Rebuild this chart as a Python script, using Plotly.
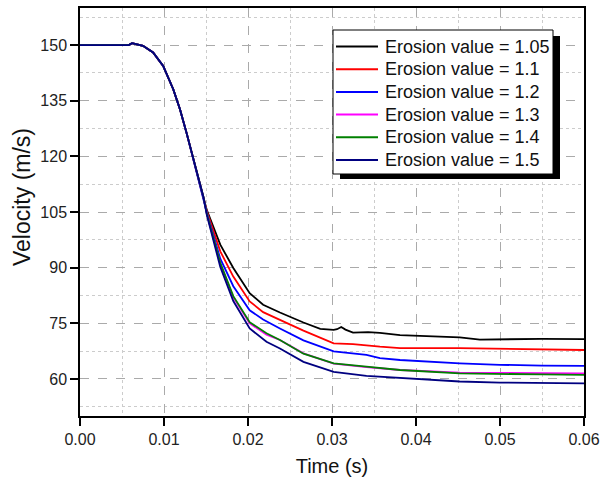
import plotly.graph_objects as go

# shared start of every curve (all overlap until ~0.015 s)
t_common = [0.0, 0.0058, 0.0062, 0.0066, 0.0075, 0.0087, 0.0099, 0.0111, 0.0119, 0.0127, 0.0134, 0.0141, 0.0147]
v_common = [150.0, 150.0, 150.5, 150.3, 149.8, 148.0, 144.4, 138.1, 132.7, 126.2, 120.0, 113.8, 109.0]

t_105 = [0.0151, 0.0167, 0.01825, 0.0202, 0.0218, 0.0238, 0.0266, 0.0286, 0.0302, 0.0306, 0.0311, 0.0316,
         0.0325, 0.0343, 0.0357, 0.0381, 0.0420, 0.0452, 0.0476, 0.050, 0.055, 0.060]
v_105 = [105.5, 96.2, 89.9, 83.1, 80.0, 77.9, 75.2, 73.5, 73.2, 73.4, 74.0, 73.3,
         72.5, 72.6, 72.4, 71.8, 71.5, 71.2, 70.6, 70.7, 70.8, 70.7]

t_11 = [0.0151, 0.0167, 0.01825, 0.0202, 0.0218, 0.0238, 0.0266, 0.0302, 0.0325, 0.0357, 0.0381, 0.0452, 0.050, 0.055, 0.060]
v_11 = [105.2, 94.4, 87.6, 80.9, 78.0, 75.9, 73.0, 69.6, 69.4, 68.7, 68.3, 68.3, 68.2, 68.0, 67.8]

t_12 = [0.0151, 0.0167, 0.01825, 0.0202, 0.0218, 0.0238, 0.0266, 0.0302, 0.0341, 0.0357, 0.0381, 0.0452, 0.050, 0.055, 0.060]
v_12 = [104.8, 92.4, 85.0, 78.5, 76.0, 73.6, 70.4, 67.4, 66.5, 65.6, 65.1, 64.2, 63.8, 63.6, 63.5]

t_13 = [0.0151, 0.0167, 0.01825, 0.0202, 0.0222, 0.0238, 0.0266, 0.0302, 0.0341, 0.0381, 0.0452, 0.050, 0.055, 0.060]
v_13 = [104.5, 91.1, 82.0, 75.0, 71.9, 70.5, 66.9, 64.1, 63.2, 62.4, 61.7, 61.6, 61.5, 61.5]

t_14 = [0.0151, 0.0167, 0.01825, 0.0202, 0.0222, 0.0232, 0.0238, 0.0266, 0.0302, 0.0341, 0.0381, 0.0452, 0.050, 0.055, 0.060]
v_14 = [104.5, 91.3, 82.3, 75.3, 72.3, 71.2, 70.5, 66.8, 64.2, 63.3, 62.4, 61.5, 61.3, 61.2, 61.1]

t_15 = [0.0151, 0.0167, 0.01825, 0.0202, 0.0222, 0.0238, 0.0266, 0.0302, 0.0341, 0.0381, 0.0452, 0.050, 0.055, 0.060]
v_15 = [104.2, 90.2, 81.0, 73.6, 70.0, 68.2, 64.6, 61.9, 60.8, 60.2, 59.3, 59.0, 58.9, 58.8]

names = ["Erosion value = 1.05", "Erosion value = 1.1", "Erosion value = 1.2",
         "Erosion value = 1.3", "Erosion value = 1.4", "Erosion value = 1.5"]
series = [(t_105, v_105), (t_11, v_11), (t_12, v_12), (t_13, v_13), (t_14, v_14), (t_15, v_15)]
colors = ["#000000", "#ff0000", "#0000ff", "#ff00ff", "#008000", "#000080"]

fig = go.Figure()
for name, (t, v), c in zip(names, series, colors):
    fig.add_trace(go.Scatter(x=t_common + t, y=v_common + v, mode="lines", name=name,
                             line=dict(color=c, width=1.8)))

# plot area is 504 x 408 px starting at page px (80, 8)
pw, ph = 504, 408
def px_x(p):
    return (p - 80) / pw
def px_y(p):
    return 1 - (p - 8) / ph

# hand-built legend box (Origin style, with a drop shadow)
fig.add_shape(type="rect", xref="paper", yref="paper",
              x0=px_x(340), x1=px_x(560), y0=px_y(179), y1=px_y(36),
              fillcolor="black", line=dict(width=0), layer="above")
fig.add_shape(type="rect", xref="paper", yref="paper",
              x0=px_x(333), x1=px_x(553), y0=px_y(174), y1=px_y(30),
              fillcolor="white", line=dict(color="black", width=1), layer="above")
row_y = 46.5
for name, c in zip(names, colors):
    fig.add_shape(type="line", xref="paper", yref="paper",
                  x0=px_x(336), x1=px_x(378), y0=px_y(row_y), y1=px_y(row_y),
                  line=dict(color=c, width=2), layer="above")
    fig.add_annotation(xref="paper", yref="paper", x=px_x(383), y=px_y(row_y),
                       xanchor="left", yanchor="middle", text=name, showarrow=False,
                       font=dict(size=18, color="#111"))
    row_y += 22.7

# y title sits a bit above the axis middle in the original
fig.add_annotation(xref="paper", yref="paper", x=px_x(22), y=px_y(197),
                   xanchor="center", yanchor="middle", textangle=-90,
                   text="Velocity (m/s)", showarrow=False,
                   font=dict(size=23, color="#111"))

axis_common = dict(showline=True, linecolor="black", linewidth=1.5, mirror=True,
                   ticks="outside", ticklen=8, tickwidth=1.5, tickcolor="black",
                   showgrid=True, gridcolor="#aaaaaa", griddash="dash", gridwidth=1,
                   zeroline=False, automargin=False,
                   tickfont=dict(size=16, color="#222"),
                   title_font=dict(size=20, color="#111"))

fig.update_xaxes(range=[0, 0.06], dtick=0.01, tick0=0, tickformat=".2f",
                 title_text="Time (s)", title_standoff=12,
                 minor=dict(dtick=0.005, showgrid=True, gridcolor="#cccccc", griddash="dot", ticks=""),
                 **axis_common)
fig.update_yaxes(range=[50, 160], dtick=15, tick0=0,
                 minor=dict(dtick=7.5, tick0=0, showgrid=True, gridcolor="#cccccc", griddash="dot", ticks=""),
                 **axis_common)

fig.update_layout(
    width=605, height=478,
    margin=dict(l=80, r=21, t=8, b=62),
    plot_bgcolor="white", paper_bgcolor="white",
    font=dict(family="Liberation Sans, Arial, sans-serif"),
    showlegend=False,
)

# drop the browser's default 8px body margin so the figure sits at the page origin
fig.write_html("out.html", config={"displayModeBar": False},
               post_script="document.body.style.margin='0px';")
